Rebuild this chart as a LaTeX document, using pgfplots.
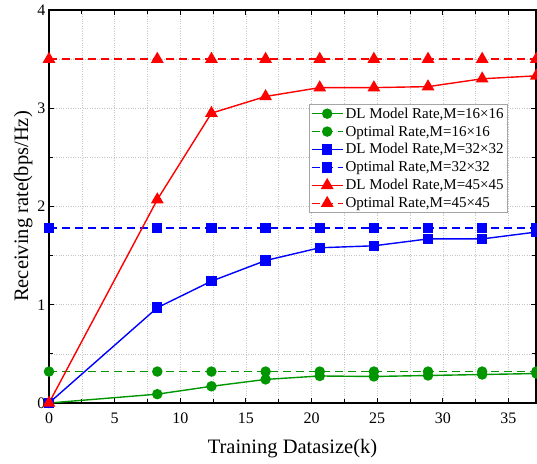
\documentclass[border=0pt]{standalone}
\usepackage{pgfplots}
\pgfplotsset{compat=1.18}
\usepackage{fontspec}
\setmainfont{Liberation Serif}

\definecolor{mygreen}{RGB}{0,150,0}

\begin{document}
\begin{tikzpicture}
\begin{axis}[
    scale only axis,
    width=487pt, height=393pt,
    xmin=0, xmax=37.1, ymin=0, ymax=4,
    xtick={0,5,...,35}, ytick={0,1,2,3,4},
    minor x tick num=1, minor y tick num=1,
    tick align=inside,
    major tick length=5pt, minor tick length=4pt,
    every tick/.style={black, line width=0.9pt},
    axis line style={line width=1.1pt},
    grid=both,
    major grid style={gray!45, dotted, line width=0.6pt},
    minor grid style={gray!45, dotted, line width=0.6pt},
    /pgf/number format/assume math mode=true,
    tick label style={font=\fontsize{16}{18}\selectfont},
    xticklabel style={anchor=north, yshift=-6pt},
    xlabel={Training Datasize(k)},
    ylabel={Receiving rate(bps/Hz)},
    label style={font=\fontsize{20.5}{24}\selectfont},
    xlabel style={yshift=-9pt},
    ylabel style={yshift=-2pt},
    clip=false,
    legend cell align=left,
    legend style={at={(0.534,0.761)}, anchor=north west,
        font=\fontsize{15}{17.5}\selectfont, draw=gray!70, line width=0.6pt,
        inner sep=1.5pt, row sep=2pt},
    legend image code/.code={\draw[mark repeat=2,mark phase=2,#1]
        plot coordinates {(0cm,0cm) (0.55cm,0cm) (1.1cm,0cm)};},
]
\coordinate (bl) at (rel axis cs:0,0);
\coordinate (tr) at (rel axis cs:1,1);
% green, M=16x16
\addplot[mygreen, line width=1.4pt, mark=*, mark size=4.5pt] coordinates {
 (0,0) (8.25,0.09) (12.375,0.17) (16.5,0.24) (20.625,0.275) (24.75,0.27)
 (28.875,0.28) (33,0.29) (37.125,0.30)};
\addlegendentry{DL Model Rate,M=16×16}
\addplot[mygreen, line width=1.4pt, dash pattern=on 8pt off 5pt, mark=*, mark size=4.5pt, mark options={solid}] coordinates {
 (0,0.32) (8.25,0.32) (12.375,0.32) (16.5,0.32) (20.625,0.32) (24.75,0.32)
 (28.875,0.32) (33,0.32) (37.125,0.32)};
\addlegendentry{Optimal Rate,M=16×16}
% blue, M=32x32
\addplot[blue, line width=1.4pt, mark=square*, mark size=4.5pt] coordinates {
 (0,0) (8.25,0.97) (12.375,1.24) (16.5,1.45) (20.625,1.58) (24.75,1.60)
 (28.875,1.67) (33,1.67) (37.125,1.74)};
\addlegendentry{DL Model Rate,M=32×32}
\addplot[blue, line width=1.4pt, dash pattern=on 8pt off 5pt, mark=square*, mark size=4.5pt, mark options={solid}] coordinates {
 (0,1.78) (8.25,1.78) (12.375,1.78) (16.5,1.78) (20.625,1.78) (24.75,1.78)
 (28.875,1.78) (33,1.78) (37.125,1.78)};
\addlegendentry{Optimal Rate,M=32×32}
% red, M=45x45
\addplot[red, line width=1.4pt, mark=triangle*, mark size=6pt] coordinates {
 (0,0) (8.25,2.07) (12.375,2.95) (16.5,3.12) (20.625,3.21) (24.75,3.21)
 (28.875,3.22) (33,3.30) (37.125,3.33)};
\addlegendentry{DL Model Rate,M=45×45}
\addplot[red, line width=1.4pt, dash pattern=on 8pt off 5pt, mark=triangle*, mark size=6pt, mark options={solid}] coordinates {
 (0,3.50) (8.25,3.50) (12.375,3.50) (16.5,3.50) (20.625,3.50) (24.75,3.50)
 (28.875,3.50) (33,3.50) (37.125,3.50)};
\addlegendentry{Optimal Rate,M=45×45}
\end{axis}
\pgfresetboundingbox
\path[use as bounding box] ([shift={(-49pt,-60pt)}]bl) rectangle ([shift={(1pt,10pt)}]tr);
\end{tikzpicture}
\end{document}
